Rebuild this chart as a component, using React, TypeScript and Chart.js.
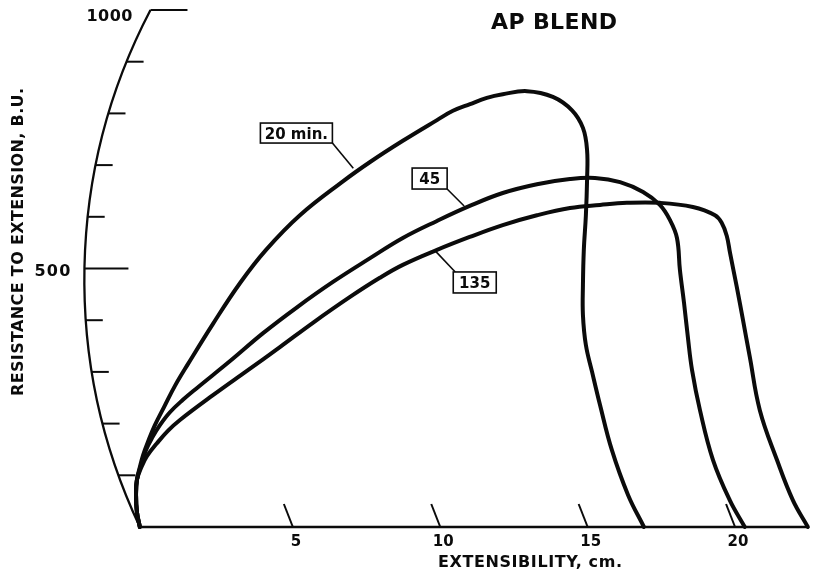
import React, { useEffect, useRef } from "react";
import { Chart, registerables } from "chart.js";

Chart.register(...registerables);

// ---- text ----
const TITLE = "AP BLEND";
const X_TITLE = "EXTENSIBILITY, cm.";
const Y_TITLE = "RESISTANCE TO EXTENSION, B.U.";

// ---- series (extensibility cm, resistance B.U.) ----
const SERIES = ["20 min.", "45", "135"];

const X_20 = [-0.19, -0.29, -0.32, -0.29, -0.19, -0.08, 0.08, 0.32, 0.63, 1.0, 1.44, 2.29, 3.21, 4.09, 5.24, 6.71, 7.62, 8.73, 9.89, 10.43, 11.01, 11.58, 12.12, 12.94, 13.82, 14.47, 14.84, 14.98, 14.98, 14.94, 14.87, 14.84, 14.84, 14.94, 15.15, 15.42, 15.82, 16.37, 16.91];
const Y_20 = [0, 29, 62, 91, 116, 139, 164, 197, 232, 273, 315, 393, 472, 536, 603, 669, 706, 747, 787, 805, 818, 830, 837, 843, 832, 806, 772, 729, 671, 603, 536, 468, 410, 352, 300, 236, 149, 62, 0];

const X_45 = [-0.19, -0.29, -0.32, -0.29, -0.15, 0.02, 0.22, 0.49, 0.83, 1.27, 1.75, 2.87, 3.99, 5.14, 6.36, 7.62, 8.73, 9.89, 11.0, 12.12, 13.28, 14.4, 15.25, 16.1, 16.88, 17.45, 17.79, 18.03, 18.13, 18.27, 18.4, 18.54, 18.81, 19.25, 19.82, 20.33];
const Y_45 = [0, 29, 62, 91, 120, 149, 172, 197, 222, 246, 269, 321, 375, 425, 474, 520, 559, 592, 621, 646, 663, 673, 675, 667, 648, 623, 594, 559, 497, 433, 367, 304, 226, 130, 52, 0];

const X_135 = [-0.19, -0.29, -0.32, -0.29, -0.12, 0.05, 0.39, 0.76, 1.17, 2.29, 3.44, 4.56, 5.68, 6.94, 7.95, 8.73, 9.89, 11.0, 12.12, 13.28, 14.4, 15.42, 16.33, 17.45, 18.57, 19.32, 19.55, 19.72, 19.83, 20.06, 20.27, 20.5, 20.84, 21.42, 21.96, 22.47];
const Y_135 = [0, 29, 62, 91, 118, 137, 162, 186, 207, 255, 302, 348, 395, 445, 482, 507, 536, 561, 584, 603, 617, 623, 627, 627, 619, 603, 588, 563, 530, 464, 400, 329, 226, 130, 52, 0];

const XS = [X_20, X_45, X_135];
const YS = [Y_20, Y_45, Y_135];

// ---- axis ticks ----
const X_TICKS = [5, 10, 15, 20];
const X_TICK_LABELS = ["5", "10", "15", "20"];
const Y_MINOR_TICKS = [100, 200, 300, 400, 600, 700, 800, 900];
const Y_LABEL_TICKS = [500, 1000];
const Y_TICK_LABELS = ["500", "1000"];

// ---- callout anchors (data units) ----
const CALLOUT_X = [5.12, 9.64, 11.17];
const CALLOUT_Y = [762, 674, 473];
const CALLOUT_TARGET_X = [7.05, 10.81, 9.83];
const CALLOUT_TARGET_Y = [694, 621, 534];

// recorder arc (the curved resistance axis) passes through these data points
const ARC_X = [0.17, -2.07, -0.19];
const ARC_Y = [1000, 500, 0];

const INK = "#0b0b0b";
const FONT = "'DejaVu Sans', 'Liberation Sans', Arial, sans-serif";

function circleFrom3(a: number[], b: number[], c: number[]) {
  const [x1, y1] = a, [x2, y2] = b, [x3, y3] = c;
  const d = 2 * (x1 * (y2 - y3) + x2 * (y3 - y1) + x3 * (y1 - y2));
  const s1 = x1 * x1 + y1 * y1, s2 = x2 * x2 + y2 * y2, s3 = x3 * x3 + y3 * y3;
  const ux = (s1 * (y2 - y3) + s2 * (y3 - y1) + s3 * (y1 - y2)) / d;
  const uy = (s1 * (x3 - x2) + s2 * (x1 - x3) + s3 * (x2 - x1)) / d;
  return { cx: ux, cy: uy, r: Math.hypot(x1 - ux, y1 - uy) };
}

function drawSpaced(ctx: any, text: string, cx: number, cy: number, width: number, size: number) {
  ctx.save();
  ctx.font = `bold ${size}px ${FONT}`;
  ctx.textAlign = "left";
  ctx.textBaseline = "alphabetic";
  ctx.letterSpacing = "0px";
  const w0 = ctx.measureText(text).width;
  const n = text.length;
  const sp = n > 1 ? (width - w0) / (n - 1) : 0;
  ctx.letterSpacing = `${sp}px`;
  ctx.fillStyle = INK;
  ctx.fillText(text, cx - width / 2, cy + size * 0.365);
  ctx.restore();
}

function drawCentered(ctx: any, text: string, cx: number, cy: number, size: number, spacing = 0) {
  ctx.save();
  ctx.font = `bold ${size}px ${FONT}`;
  ctx.letterSpacing = `${spacing}px`;
  ctx.textAlign = "left";
  ctx.textBaseline = "alphabetic";
  const w = ctx.measureText(text).width - spacing;
  ctx.fillStyle = INK;
  ctx.fillText(text, cx - w / 2, cy + size * 0.365);
  ctx.restore();
}

const axesPlugin = {
  id: "extensigraphAxes",
  beforeDatasetsDraw(chart: any) {
    const { ctx } = chart;
    const xs = chart.scales.x, ys = chart.scales.y;
    const px = (v: number) => xs.getPixelForValue(v);
    const py = (v: number) => ys.getPixelForValue(v);
    const pts = ARC_X.map((x, i) => [px(x), py(ARC_Y[i])]);
    const { cx, cy, r } = circleFrom3(pts[0], pts[1], pts[2]);
    const top = pts[0], bot = pts[2];
    const arcX = (yy: number) => cx - Math.sqrt(r * r - (yy - cy) * (yy - cy));

    ctx.save();
    ctx.strokeStyle = INK;
    ctx.lineCap = "butt";
    // arc
    ctx.lineWidth = 2.3;
    ctx.beginPath();
    ctx.arc(cx, cy, r, Math.atan2(top[1] - cy, top[0] - cx), Math.atan2(bot[1] - cy, bot[0] - cx), true);
    ctx.stroke();
    // top horizontal at 1000
    ctx.lineWidth = 2;
    ctx.beginPath();
    ctx.moveTo(top[0], top[1]);
    ctx.lineTo(top[0] + 37, top[1]);
    ctx.stroke();
    // minor ticks
    Y_MINOR_TICKS.forEach((v) => {
      const yy = py(v);
      const x0 = arcX(yy);
      ctx.beginPath();
      ctx.moveTo(x0, yy);
      ctx.lineTo(x0 + 17, yy);
      ctx.stroke();
    });
    // 500 tick (long)
    {
      const yy = py(500);
      const x0 = arcX(yy);
      ctx.beginPath();
      ctx.moveTo(x0, yy);
      ctx.lineTo(x0 + 44, yy);
      ctx.stroke();
    }
    // x axis baseline
    ctx.lineWidth = 2.4;
    ctx.beginPath();
    ctx.moveTo(bot[0], bot[1]);
    ctx.lineTo(xs.right, bot[1]);
    ctx.stroke();
    // slanted x ticks
    ctx.lineWidth = 2;
    X_TICKS.forEach((v) => {
      const x0 = px(v), y0 = py(0);
      ctx.beginPath();
      ctx.moveTo(x0, y0);
      ctx.lineTo(x0 - 9, y0 - 23);
      ctx.stroke();
    });
    ctx.restore();

    // tick labels
    X_TICKS.forEach((v, i) => {
      drawCentered(ctx, X_TICK_LABELS[i], px(v) + 3, py(0) + 14, 15, 0);
    });
    Y_LABEL_TICKS.forEach((v, i) => {
      const yy = py(v);
      const txt = Y_TICK_LABELS[i];
      if (v === 1000) {
        drawSpaced(ctx, txt, top[0] - 41, yy + 5, 46, 16);
      } else {
        drawSpaced(ctx, txt, arcX(yy) - 32, yy + 2, 36, 16);
      }
    });

    // titles
    drawSpaced(ctx, TITLE, 554, 21, 126, 22);
    drawSpaced(ctx, X_TITLE, 530, 561, 184, 16);
    ctx.save();
    ctx.translate(17, 242);
    ctx.rotate(-Math.PI / 2);
    drawSpaced(ctx, Y_TITLE, 0, 0, 308, 16);
    ctx.restore();
  },
  afterDatasetsDraw(chart: any) {
    const { ctx } = chart;
    const xs = chart.scales.x, ys = chart.scales.y;
    const px = (v: number) => xs.getPixelForValue(v);
    const py = (v: number) => ys.getPixelForValue(v);
    const sizes = [[72, 20], [35, 21], [43, 21]];
    SERIES.forEach((name, i) => {
      const bx = px(CALLOUT_X[i]);
      const by = py(CALLOUT_Y[i]);
      const [w, h] = sizes[i];
      const tx = px(CALLOUT_TARGET_X[i]);
      const ty = py(CALLOUT_TARGET_Y[i]);
      ctx.save();
      ctx.strokeStyle = INK;
      ctx.lineWidth = 1.6;
      const below = ty > by;
      const sx = below ? bx + w / 2 : bx - w / 2 + 2;
      const sy = below ? by + h / 2 : by - h / 2;
      ctx.beginPath();
      ctx.moveTo(sx, sy);
      ctx.lineTo(tx, ty);
      ctx.stroke();
      ctx.fillStyle = "#ffffff";
      ctx.fillRect(bx - w / 2, by - h / 2, w, h);
      ctx.strokeRect(bx - w / 2, by - h / 2, w, h);
      ctx.restore();
      drawCentered(ctx, name, bx, by, 15, 0);
    });
  },
};

export default function App() {
  const ref = useRef<HTMLCanvasElement>(null);
  useEffect(() => {
    document.body.style.margin = "0";
    const canvas = ref.current;
    if (!canvas) return;
    const chart = new Chart(canvas, {
      type: "scatter",
      data: {
        datasets: SERIES.map((name, i) => ({
          label: name,
          data: XS[i].map((x, j) => ({ x, y: YS[i][j] })),
          showLine: true,
          borderColor: INK,
          backgroundColor: INK,
          borderWidth: 4,
          pointRadius: 0,
          tension: 0.4,
          borderCapStyle: "round",
          borderJoinStyle: "round",
          fill: false,
          clip: false,
        })),
      } as any,
      options: {
        responsive: false,
        animation: false,
        events: [],
        layout: { padding: { left: 86.5, right: 4.25, top: 10, bottom: 48 } },
        scales: {
          x: { type: "linear", min: -2, max: 22.5, display: false },
          y: { type: "linear", min: 0, max: 1000, display: false },
        },
        plugins: {
          legend: { display: false },
          tooltip: { enabled: false },
          title: { display: false },
        },
      } as any,
      plugins: [axesPlugin],
    });
    return () => chart.destroy();
  }, []);
  return (
    <div style={{ width: 813, height: 575, background: "#ffffff" }}>
      <canvas ref={ref} width={813} height={575} style={{ display: "block" }} />
    </div>
  );
}
